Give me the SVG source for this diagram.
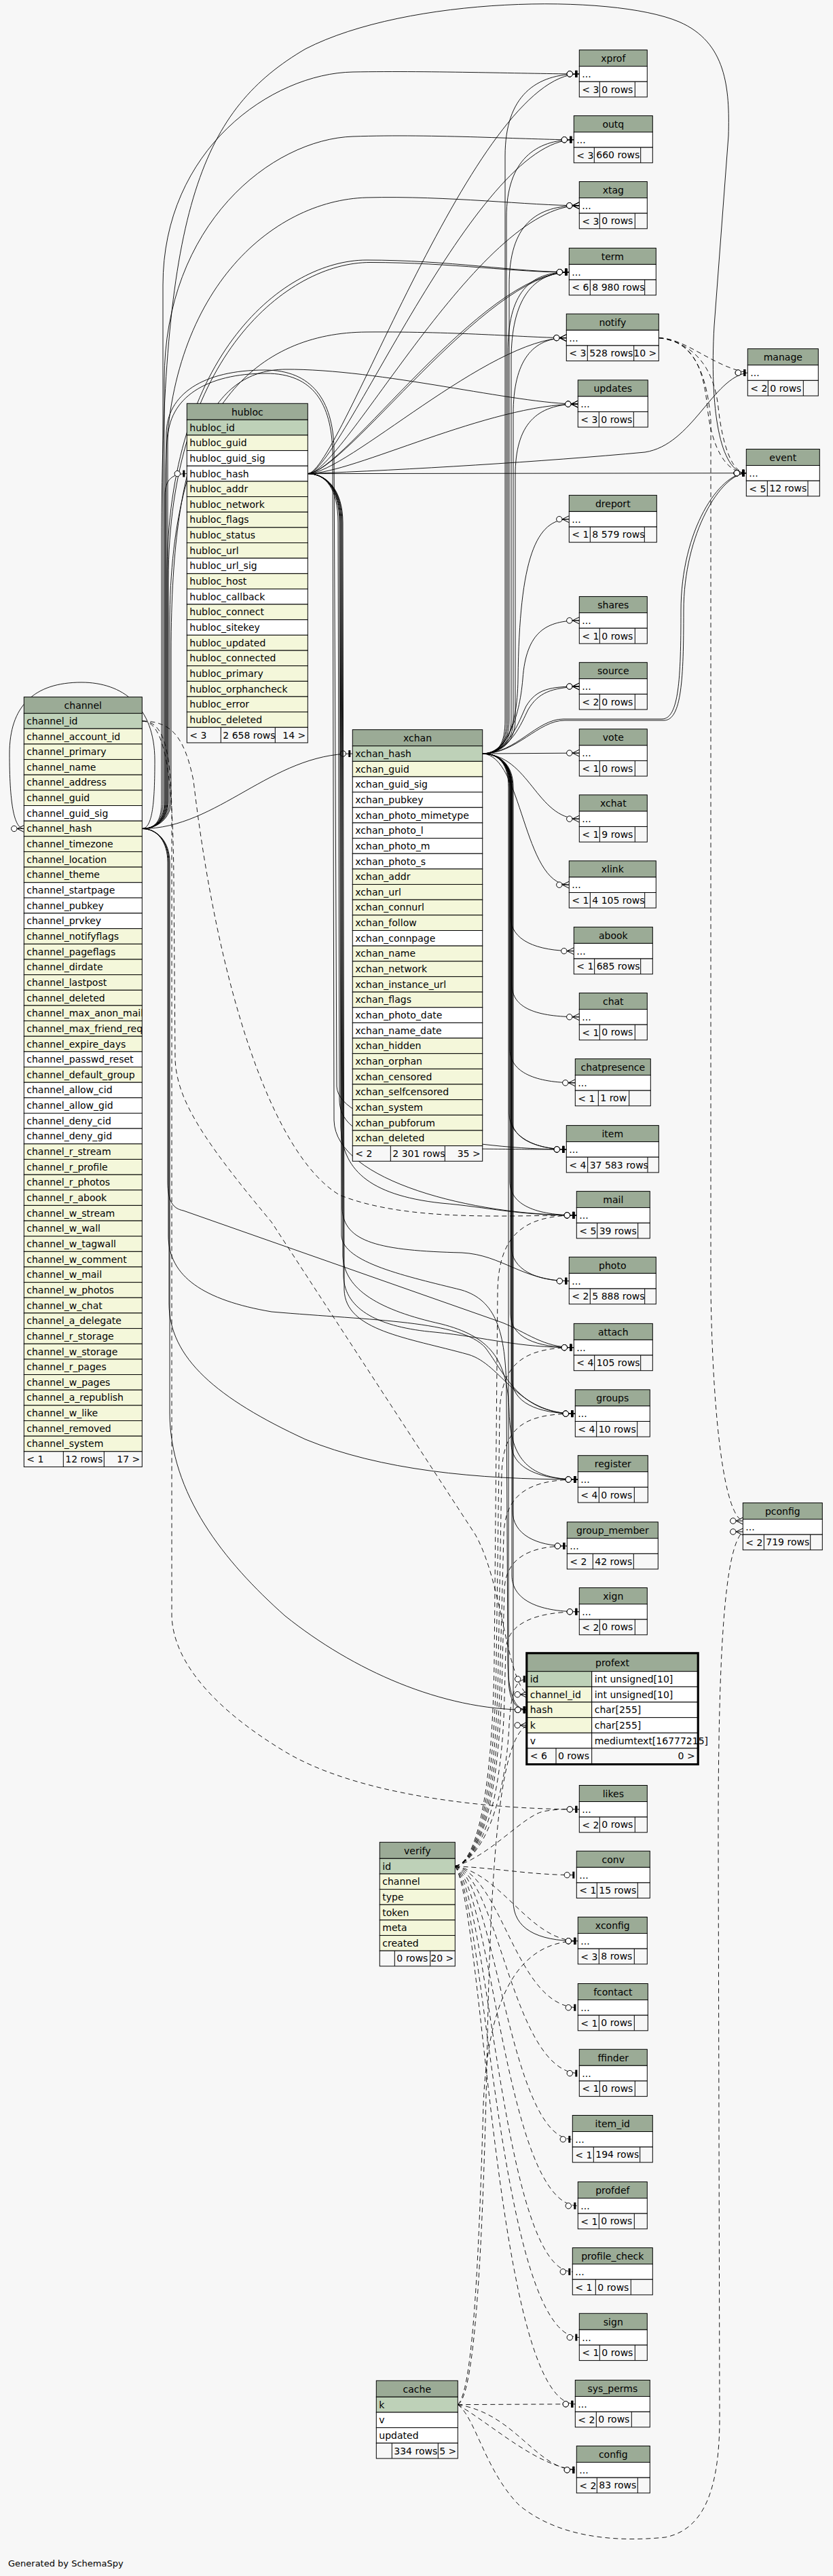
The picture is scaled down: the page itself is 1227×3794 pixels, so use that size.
<svg xmlns="http://www.w3.org/2000/svg" width="1227" height="3794" viewBox="0 0 1227 3794">
<style>
text{font-family:"DejaVu Sans","Liberation Sans",sans-serif;font-size:14px;fill:#000}
.c{text-anchor:middle}
.r{text-anchor:end}
.hd{fill:#9bab96;stroke:#000;stroke-width:1}
.pk{fill:#bed1b8;stroke:#000;stroke-width:1}
.ix{fill:#f4f7da;stroke:#000;stroke-width:1}
.pl{fill:#ffffff;stroke:#000;stroke-width:1}
.ft{fill:#f7f7f7;stroke:#000;stroke-width:1}
.ln{stroke:#000;stroke-width:1;fill:none}
.e{fill:none;stroke:#000;stroke-width:0.9}
.d{stroke-dasharray:7 5}
.m1{marker-end:url(#one)}
.mc{marker-end:url(#crow)}
.gen{font-size:13px}
</style>
<defs>
<marker id="one" markerWidth="24" markerHeight="14" refX="22" refY="7" orient="0" markerUnits="userSpaceOnUse" overflow="visible"><circle cx="8" cy="7" r="4.2" fill="#fff" stroke="#000" stroke-dasharray="none"/><rect x="16" y="2" width="3" height="10" fill="#000"/></marker>
<marker id="crow" markerWidth="24" markerHeight="14" refX="22" refY="7" orient="0" markerUnits="userSpaceOnUse" overflow="visible"><path d="M12,7 L22,2 M12,7 L22,7 M12,7 L22,12" fill="none" stroke="#000" stroke-dasharray="none"/><circle cx="7.5" cy="7" r="4.2" fill="#fff" stroke="#000" stroke-dasharray="none"/></marker>
<clipPath id="cc"><rect x="0" y="0" width="174" height="1140"/></clipPath>
</defs>
<rect width="1227" height="3794" fill="#f7f7f7"/>
<g id="connectors">
<path class="e m1" d="M 209.3,1220.5 C 232,1220.5 240,1205 240,1180 L 240,420 C 240,220 400,108 520,106 C 640,104 780,108.9 853.3,108.9"/>
<path class="e m1" d="M 209.3,1220.5 C 232,1220.5 242,1205 242,1180 L 242,560 C 242,330 400,205 520,201 C 640,197 780,205.8 845.3,205.8"/>
<path class="e mc" d="M 209.3,1220.5 C 232,1220.5 244,1205 244,1180 L 244,700 C 244,430 400,295 540,291 C 660,288 780,302.8 853.3,302.8"/>
<path class="e m1" d="M 209.3,1220.5 C 232,1220.5 246,1205 246,1180 L 246,850 C 246,520 420,383 540,383 C 660,383 760,400.7 838.3,400.7"/>
<path class="e m1" d="M 209.3,1220.5 C 232,1220.5 248,1205 248,1180 L 248,855 C 248,525 425,386.5 545,386.5 C 665,386.5 765,402 838.3,400.7"/>
<path class="e mc" d="M 209.3,1220.5 C 232,1220.5 250,1205 250,1180 L 250,920 C 250,600 380,490 540,489 C 680,488 780,497.6 834.3,497.6"/>
<path class="e mc" d="M 209.3,1220.5 C 232,1220.5 252,1205 252,1180 L 252,960 C 252,640 320,545 420,544 C 560,543 760,595.1 851.3,595.1"/>
<path class="e m1" d="M 209.3,1220.5 C 232,1220.5 238,1205 238,1180 L 238,800 C 238,300 300,160 450,72 C 600,-5 900,-10 1000,32 C 1070,62 1075,130 1073,200 L 1052,480 C 1045,600 1060,696.8 1099.3,696.8"/>
<path class="e m1" d="M 209.3,1220.5 C 232,1220.5 243,1205 243,1180 L 243,730 C 243,705 255,697.6 275.3,697.6"/>
<path class="e m1" d="M 209.3,1220.5 C 320,1220.5 400,1110 519.3,1110"/>
<path class="e mc" d="M 209.3,1220.5 C 225,1220 228,1180 228,1120 C 228,1040 180,1005 120,1005 C 50,1005 14,1040 14,1110 C 14,1180 20,1220.5 35.3,1220.5"/>
<path class="e m1" d="M 209.3,1220.5 C 232,1220.5 245,1205 245,1180 L 245,640 C 245,580 300,545 390,545 C 460,545 490,590 492,660 L 496,1600 C 498,1660 700,1692.9 834.3,1692.9"/>
<path class="e m1" d="M 209.3,1220.5 C 232,1220.5 247,1205 247,1180 L 247,650 C 247,585 305,550 392,550 C 462,550 488,595 490,665 L 492,1650 C 494,1740 700,1789.9 849.3,1789.9"/>
<path class="e m1" d="M 209.3,1220.5 C 232,1220.5 247,1240 247,1270 L 247,1740 C 247,1770 255,1780 270,1783 L 740,1948 C 775,1962 800,1984.7 845.3,1984.7"/>
<path class="e m1" d="M 209.3,1220.5 C 232,1220.5 248,1240 248,1270 L 248,1820 C 248,1880 300,1915 400,1932 C 550,1945 680,1945 715,1985 C 745,2025 765,2082.1 847.3,2082.1"/>
<path class="e m1" d="M 209.3,1220.5 C 232,1220.5 249,1240 249,1270 L 249,1920 C 249,2000 320,2060 450,2120 C 560,2165 700,2179 851.3,2179"/>
<path class="e m1" d="M 209.3,1220.5 C 232,1220.5 250,1240 250,1270 L 250,2080 C 250,2200 330,2300 420,2380 C 520,2460 650,2518.3 776.7,2518.3"/>
<path class="e m1" d="M 710.7,1110 C 735,1110 744,1095 744,1060 L 744,230 C 744,140 790,108.9 853.3,108.9"/>
<path class="e m1" d="M 710.7,1110 C 735,1110 746,1095 746,1060 L 746,320 C 746,235 790,205.8 845.3,205.8"/>
<path class="e mc" d="M 710.7,1110 C 735,1110 750,1095 750,1060 L 750,420 C 750,330 790,302.8 853.3,302.8"/>
<path class="e m1" d="M 710.7,1110 C 735,1110 748,1095 748,1060 L 748,520 C 748,430 780,400.7 838.3,400.7"/>
<path class="e m1" d="M 710.7,1110 C 735,1110 753,1095 753,1060 L 753,530 C 753,440 785,402 838.3,400.7"/>
<path class="e mc" d="M 710.7,1110 C 735,1110 756,1095 756,1060 L 756,610 C 756,530 785,497.6 834.3,497.6"/>
<path class="e mc" d="M 710.7,1110 C 735,1110 759,1095 759,1060 L 759,700 C 759,625 790,595.1 851.3,595.1"/>
<path class="e mc" d="M 710.7,1110 C 740,1110 762,1080 763,1000 C 765,820 790,764.7 838.3,764.7"/>
<path class="e mc" d="M 710.7,1110 C 745,1110 765,1060 770,1000 C 775,930 805,913.9 853.3,913.9"/>
<path class="e mc" d="M 710.7,1110 C 750,1110 765,1060 775,1040 C 790,1015 810,1011 853.3,1011"/>
<path class="e mc" d="M 710.7,1110 C 752,1108 768,1065 778,1045 C 793,1020 812,1013 853.3,1011"/>
<path class="e mc" d="M 710.7,1110 L 853.3,1109.1"/>
<path class="e mc" d="M 710.7,1110 C 780,1112 790,1206.1 853.3,1206.1"/>
<path class="e mc" d="M 710.7,1110 C 770,1112 770,1303.2 838.3,1303.2"/>
<path class="e mc" d="M 710.7,1110 C 735,1110 752,1125 752,1160 L 752,1350 C 752,1385 790,1400.7 845.3,1400.7"/>
<path class="e mc" d="M 710.7,1110 C 735,1110 754,1125 754,1160 L 754,1450 C 754,1485 790,1497.8 853.3,1497.8"/>
<path class="e mc" d="M 710.7,1110 C 735,1110 751,1125 751,1160 L 751,1545 C 751,1580 790,1594.8 847.3,1594.8"/>
<path class="e m1" d="M 710.7,1110 C 735,1110 750,1125 750,1160 L 750,1640 C 750,1675 790,1692.9 834.3,1692.9"/>
<path class="e m1" d="M 710.7,1110 C 735,1110 753,1125 753,1160 L 753,1645 C 753,1680 795,1692 834.3,1692.9"/>
<path class="e m1" d="M 710.7,1110 C 735,1110 751,1125 751,1160 L 751,1740 C 751,1775 790,1789.9 849.3,1789.9"/>
<path class="e m1" d="M 710.7,1110 C 735,1110 753,1125 753,1160 L 753,1835 C 753,1870 790,1886.7 838.3,1886.7"/>
<path class="e m1" d="M 710.7,1110 C 735,1110 752,1125 752,1160 L 752,1935 C 752,1970 790,1984.7 845.3,1984.7"/>
<path class="e m1" d="M 710.7,1110 C 735,1110 754,1125 754,1160 L 754,2030 C 754,2065 790,2082.1 847.3,2082.1"/>
<path class="e m1" d="M 710.7,1110 C 735,1110 753,1125 753,1160 L 753,2125 C 753,2160 790,2179 851.3,2179"/>
<path class="e m1" d="M 710.7,1110 C 735,1110 755,1125 755,1160 L 755,2225 C 755,2260 790,2277 835.3,2277"/>
<path class="e m1" d="M 710.7,1110 C 735,1110 754,1125 754,1160 L 754,2320 C 754,2355 790,2373.8 853.3,2373.8"/>
<path class="e m1" d="M 710.7,1110 C 735,1110 749,1125 749,1160 L 749,2470 C 749,2505 760,2518.3 776.7,2518.3"/>
<path class="e m1" d="M 710.7,1110 C 735,1110 756,1125 756,1160 L 756,2800 C 756,2840 790,2858.8 851.3,2858.8"/>
<path class="e m1" d="M 710.7,1110 C 760,1110 790,1059 830,1059 L 975,1059 C 1000,1059 1003,1000 1003,900 C 1003,780 1060,696.8 1099.3,696.8"/>
<path class="e m1" d="M 710.7,1110 C 762,1110 792,1061 832,1061 L 978,1061 C 1004,1061 1007,1000 1007,900 C 1007,785 1062,698 1099.3,696.8"/>
<path class="e m1" d="M 453.3,697.6 C 500,697.6 700,108.9 853.3,108.9"/>
<path class="e m1" d="M 453.3,697.6 C 500,697.6 700,205.8 845.3,205.8"/>
<path class="e mc" d="M 453.3,697.6 C 505,697.6 705,302.8 853.3,302.8"/>
<path class="e m1" d="M 453.3,697.6 C 505,697.6 710,400.7 838.3,400.7"/>
<path class="e m1" d="M 453.3,697.6 C 510,695 715,403 838.3,400.7"/>
<path class="e mc" d="M 453.3,697.6 C 510,697.6 720,497.6 834.3,497.6"/>
<path class="e mc" d="M 453.3,697.6 C 520,697.6 720,595.1 851.3,595.1"/>
<path class="e m1" d="M 453.3,697.6 C 600,692 800,680 950,666 C 1020,655 1050,556 1101.3,549"/>
<path class="e m1" d="M 453.3,697.6 L 1099.3,696.8"/>
<path class="e m1" d="M 453.3,697.6 C 480,697.6 498,720 498,770 L 500,1620 C 501,1670 560,1690 700,1692 C 780,1692.9 800,1692.9 834.3,1692.9"/>
<path class="e m1" d="M 453.3,697.6 C 480,697.6 500,720 500,770 L 502,1660 C 504,1720 540,1760 650,1772 C 720,1778 760,1789.9 849.3,1789.9"/>
<path class="e m1" d="M 453.3,697.6 C 480,697.6 502,720 502,770 L 504,1780 C 506,1830 560,1842 680,1845 C 740,1848 770,1886.7 838.3,1886.7"/>
<path class="e m1" d="M 453.3,697.6 C 480,697.6 504,720 504,770 L 506,1880 C 508,1930 560,1955 640,1962 C 720,1970 760,1984.7 845.3,1984.7"/>
<path class="e m1" d="M 453.3,697.6 C 480,697.6 505,720 505,770 L 507,1900 C 509,1960 600,1970 690,1995 C 740,2010 760,2082.1 847.3,2082.1"/>
<path class="e m1" d="M 453.3,697.6 C 480,697.6 503,720 503,770 L 505,1850 C 507,1900 560,1930 650,1950 C 720,1968 748,2000 750,2080 C 752,2150 780,2179 851.3,2179"/>
<path class="e m1" d="M 453.3,697.6 C 480,697.6 501,720 501,770 L 503,1820 C 505,1860 600,1880 680,1900 C 730,1915 745,1960 746,2050 L 748,2450 C 749,2500 760,2518.3 776.7,2518.3"/>
<path class="e d mc" d="M 209.3,1062 C 245,1062 255,1150 256,1300 L 258,1560 C 260,1620 300,1680 400,1800 L 700,2260 C 740,2330 745,2470 776.7,2495.7"/>
<path class="e d m1" d="M 209.3,1062 C 240,1062 252,1100 253,1200 L 253,2380 C 255,2450 320,2520 420,2580 C 520,2640 700,2664.8 853.3,2664.8"/>
<path class="e d m1" d="M 209.3,1062 C 252,1062 272,1085 285,1150 C 320,1450 400,1700 500,1760 C 600,1800 750,1789.9 849.3,1789.9"/>
<path class="e d m1" d="M 670.3,2748.6 C 712,2738 745,2650 750,2540 C 753,2490 760,2473 776.7,2473"/>
<path class="e d m1" d="M 670.3,2748.6 C 720,2735 770,2675 800,2668 C 820,2664 835,2664.8 853.3,2664.8"/>
<path class="e d m1" d="M 670.3,2748.6 C 740,2752 780,2761.6 849.3,2761.6"/>
<path class="e d m1" d="M 670.3,2748.6 C 740,2760 780,2858.8 851.3,2858.8"/>
<path class="e d m1" d="M 670.3,2748.6 C 740,2762 760,2956.8 851.3,2956.8"/>
<path class="e d m1" d="M 670.3,2748.6 C 735,2765 755,3053.6 853.3,3053.6"/>
<path class="e d m1" d="M 670.3,2748.6 C 730,2770 750,3150.8 843.3,3150.8"/>
<path class="e d m1" d="M 670.3,2748.6 C 725,2780 745,3248.8 851.3,3248.8"/>
<path class="e d m1" d="M 670.3,2748.6 C 720,2790 740,3345.9 843.3,3345.9"/>
<path class="e d m1" d="M 670.3,2748.6 C 715,2800 735,3442.6 853.3,3442.6"/>
<path class="e d m1" d="M 670.3,2748.6 C 712,2810 730,3540.8 847.3,3540.8"/>
<path class="e d m1" d="M 670.3,2748.6 C 700,2745 725,2650 728,2450 L 733,1900 C 735,1820 770,1789.9 849.3,1789.9"/>
<path class="e d m1" d="M 670.3,2748.6 C 702,2744 728,2650 731,2450 L 736,2080 C 738,2010 770,1984.7 845.3,1984.7"/>
<path class="e d m1" d="M 670.3,2748.6 C 704,2743 731,2650 734,2450 L 739,2170 C 741,2100 775,2082.1 847.3,2082.1"/>
<path class="e d m1" d="M 670.3,2748.6 C 706,2742 734,2650 737,2450 L 742,2260 C 744,2200 780,2179 851.3,2179"/>
<path class="e d m1" d="M 670.3,2748.6 C 708,2741 737,2650 740,2450 L 743,2340 C 745,2295 780,2277 835.3,2277"/>
<path class="e d m1" d="M 670.3,2748.6 C 710,2740 740,2650 743,2500 L 745,2430 C 747,2390 790,2373.8 853.3,2373.8"/>
<path class="e d m1" d="M 674.3,3541.6 L 847.3,3540.8"/>
<path class="e d m1" d="M 674.3,3541.6 C 760,3555 790,3637.8 849.3,3637.8"/>
<path class="e d m1" d="M 674.3,3541.6 C 730,3575 790,3632 849.3,3637.8"/>
<path class="e d mc" d="M 674.3,3541.6 C 700,3530 712,3300 718,3000 C 724,2700 740,2560 776.7,2541"/>
<path class="e d m1" d="M 674.3,3541.6 C 698,3520 706,3300 712,3100 C 718,2950 760,2858.8 851.3,2858.8"/>
<path class="e d mc" d="M 674.3,3541.6 C 700,3560 715,3640 765,3690 C 820,3735 900,3745 980,3737 C 1040,3725 1060,3660 1060,3560 L 1058,2700 C 1058,2450 1066,2280 1094.3,2256"/>
<path class="e d m1" d="M 970.3,497.6 C 1010,498 1050,540 1101.3,549"/>
<path class="e d m1" d="M 970.3,497.6 C 1020,502 1036,540 1042,600 C 1048,660 1070,696.8 1099.3,696.8"/>
<path class="e d m1" d="M 970.3,497.6 C 1025,505 1052,545 1058,600 C 1064,655 1078,696.8 1099.3,696.8"/>
<path class="e d mc" d="M 970.3,497.6 C 1010,500 1040,530 1047,620 L 1047,1900 C 1050,2100 1068,2232 1094.3,2240"/>
</g>

<g id="hubloc" transform="translate(275.3,594.3)">
<rect class="hd" width="178" height="24"/><text class="c" x="89" y="17.5">hubloc</text>
<rect class="pk" y="24" width="178" height="22.65"/><text x="4" y="40.3">hubloc_id</text>
<rect class="ix" y="46.65" width="178" height="22.65"/><text x="4" y="62.95">hubloc_guid</text>
<rect class="pl" y="69.3" width="178" height="22.65"/><text x="4" y="85.6">hubloc_guid_sig</text>
<rect class="pl" y="91.95" width="178" height="22.65"/><text x="4" y="108.25">hubloc_hash</text>
<rect class="ix" y="114.6" width="178" height="22.65"/><text x="4" y="130.9">hubloc_addr</text>
<rect class="ix" y="137.25" width="178" height="22.65"/><text x="4" y="153.55">hubloc_network</text>
<rect class="ix" y="159.9" width="178" height="22.65"/><text x="4" y="176.2">hubloc_flags</text>
<rect class="ix" y="182.55" width="178" height="22.65"/><text x="4" y="198.85">hubloc_status</text>
<rect class="ix" y="205.2" width="178" height="22.65"/><text x="4" y="221.5">hubloc_url</text>
<rect class="pl" y="227.85" width="178" height="22.65"/><text x="4" y="244.15">hubloc_url_sig</text>
<rect class="ix" y="250.5" width="178" height="22.65"/><text x="4" y="266.8">hubloc_host</text>
<rect class="pl" y="273.15" width="178" height="22.65"/><text x="4" y="289.45">hubloc_callback</text>
<rect class="ix" y="295.8" width="178" height="22.65"/><text x="4" y="312.1">hubloc_connect</text>
<rect class="pl" y="318.45" width="178" height="22.65"/><text x="4" y="334.75">hubloc_sitekey</text>
<rect class="ix" y="341.1" width="178" height="22.65"/><text x="4" y="357.4">hubloc_updated</text>
<rect class="ix" y="363.75" width="178" height="22.65"/><text x="4" y="380.05">hubloc_connected</text>
<rect class="ix" y="386.4" width="178" height="22.65"/><text x="4" y="402.7">hubloc_primary</text>
<rect class="ix" y="409.05" width="178" height="22.65"/><text x="4" y="425.35">hubloc_orphancheck</text>
<rect class="ix" y="431.7" width="178" height="22.65"/><text x="4" y="448">hubloc_error</text>
<rect class="ix" y="454.35" width="178" height="22.65"/><text x="4" y="470.65">hubloc_deleted</text>
<rect class="ft" y="477" width="178" height="22.65"/><path class="ln" d="M50,477 V499.65 M130,477 V499.65"/>
<text x="4" y="493.3">&lt; 3</text><svg x="50" y="477" width="80" height="22.65"><text x="3" y="16.3">2 658 rows</text></svg><text class="r" x="175" y="493.3">14 &gt;</text>
</g>

<g id="channel" transform="translate(35.3,1026.6)">
<rect class="hd" width="174" height="24"/><text class="c" x="87" y="17.5">channel</text>
<rect class="pk" y="24" width="174" height="22.65"/>
<rect class="ix" y="46.65" width="174" height="22.65"/>
<rect class="ix" y="69.3" width="174" height="22.65"/>
<rect class="ix" y="91.95" width="174" height="22.65"/>
<rect class="ix" y="114.6" width="174" height="22.65"/>
<rect class="ix" y="137.25" width="174" height="22.65"/>
<rect class="pl" y="159.9" width="174" height="22.65"/>
<rect class="ix" y="182.55" width="174" height="22.65"/>
<rect class="ix" y="205.2" width="174" height="22.65"/>
<rect class="ix" y="227.85" width="174" height="22.65"/>
<rect class="ix" y="250.5" width="174" height="22.65"/>
<rect class="pl" y="273.15" width="174" height="22.65"/>
<rect class="pl" y="295.8" width="174" height="22.65"/>
<rect class="pl" y="318.45" width="174" height="22.65"/>
<rect class="ix" y="341.1" width="174" height="22.65"/>
<rect class="ix" y="363.75" width="174" height="22.65"/>
<rect class="ix" y="386.4" width="174" height="22.65"/>
<rect class="ix" y="409.05" width="174" height="22.65"/>
<rect class="ix" y="431.7" width="174" height="22.65"/>
<rect class="ix" y="454.35" width="174" height="22.65"/>
<rect class="ix" y="477" width="174" height="22.65"/>
<rect class="ix" y="499.65" width="174" height="22.65"/>
<rect class="pl" y="522.3" width="174" height="22.65"/>
<rect class="ix" y="544.95" width="174" height="22.65"/>
<rect class="pl" y="567.6" width="174" height="22.65"/>
<rect class="pl" y="590.25" width="174" height="22.65"/>
<rect class="pl" y="612.9" width="174" height="22.65"/>
<rect class="pl" y="635.55" width="174" height="22.65"/>
<rect class="ix" y="658.2" width="174" height="22.65"/>
<rect class="ix" y="680.85" width="174" height="22.65"/>
<rect class="ix" y="703.5" width="174" height="22.65"/>
<rect class="ix" y="726.15" width="174" height="22.65"/>
<rect class="ix" y="748.8" width="174" height="22.65"/>
<rect class="ix" y="771.45" width="174" height="22.65"/>
<rect class="ix" y="794.1" width="174" height="22.65"/>
<rect class="ix" y="816.75" width="174" height="22.65"/>
<rect class="ix" y="839.4" width="174" height="22.65"/>
<rect class="ix" y="862.05" width="174" height="22.65"/>
<rect class="ix" y="884.7" width="174" height="22.65"/>
<rect class="ix" y="907.35" width="174" height="22.65"/>
<rect class="ix" y="930" width="174" height="22.65"/>
<rect class="ix" y="952.65" width="174" height="22.65"/>
<rect class="ix" y="975.3" width="174" height="22.65"/>
<rect class="ix" y="997.95" width="174" height="22.65"/>
<rect class="ix" y="1020.6" width="174" height="22.65"/>
<rect class="ix" y="1043.25" width="174" height="22.65"/>
<rect class="ix" y="1065.9" width="174" height="22.65"/>
<rect class="ix" y="1088.55" width="174" height="22.65"/>
<g clip-path="url(#cc)">
<text x="4" y="40.3">channel_id</text>
<text x="4" y="62.95">channel_account_id</text>
<text x="4" y="85.6">channel_primary</text>
<text x="4" y="108.25">channel_name</text>
<text x="4" y="130.9">channel_address</text>
<text x="4" y="153.55">channel_guid</text>
<text x="4" y="176.2">channel_guid_sig</text>
<text x="4" y="198.85">channel_hash</text>
<text x="4" y="221.5">channel_timezone</text>
<text x="4" y="244.15">channel_location</text>
<text x="4" y="266.8">channel_theme</text>
<text x="4" y="289.45">channel_startpage</text>
<text x="4" y="312.1">channel_pubkey</text>
<text x="4" y="334.75">channel_prvkey</text>
<text x="4" y="357.4">channel_notifyflags</text>
<text x="4" y="380.05">channel_pageflags</text>
<text x="4" y="402.7">channel_dirdate</text>
<text x="4" y="425.35">channel_lastpost</text>
<text x="4" y="448">channel_deleted</text>
<text x="4" y="470.65">channel_max_anon_mail</text>
<text x="4" y="493.3">channel_max_friend_req</text>
<text x="4" y="515.95">channel_expire_days</text>
<text x="4" y="538.6">channel_passwd_reset</text>
<text x="4" y="561.25">channel_default_group</text>
<text x="4" y="583.9">channel_allow_cid</text>
<text x="4" y="606.55">channel_allow_gid</text>
<text x="4" y="629.2">channel_deny_cid</text>
<text x="4" y="651.85">channel_deny_gid</text>
<text x="4" y="674.5">channel_r_stream</text>
<text x="4" y="697.15">channel_r_profile</text>
<text x="4" y="719.8">channel_r_photos</text>
<text x="4" y="742.45">channel_r_abook</text>
<text x="4" y="765.1">channel_w_stream</text>
<text x="4" y="787.75">channel_w_wall</text>
<text x="4" y="810.4">channel_w_tagwall</text>
<text x="4" y="833.05">channel_w_comment</text>
<text x="4" y="855.7">channel_w_mail</text>
<text x="4" y="878.35">channel_w_photos</text>
<text x="4" y="901">channel_w_chat</text>
<text x="4" y="923.65">channel_a_delegate</text>
<text x="4" y="946.3">channel_r_storage</text>
<text x="4" y="968.95">channel_w_storage</text>
<text x="4" y="991.6">channel_r_pages</text>
<text x="4" y="1014.25">channel_w_pages</text>
<text x="4" y="1036.9">channel_a_republish</text>
<text x="4" y="1059.55">channel_w_like</text>
<text x="4" y="1082.2">channel_removed</text>
<text x="4" y="1104.85">channel_system</text>
</g>
<rect class="ft" y="1111.2" width="174" height="22.65"/><path class="ln" d="M58,1111.2 V1133.85 M118,1111.2 V1133.85"/>
<text x="4" y="1127.5">&lt; 1</text><svg x="58" y="1111.2" width="60" height="22.65"><text x="3" y="16.3">12 rows</text></svg><text class="r" x="171" y="1127.5">17 &gt;</text>
</g>

<g id="xchan" transform="translate(519.3,1074.7)">
<rect class="hd" width="191.4" height="24"/><text class="c" x="95.7" y="17.5">xchan</text>
<rect class="pk" y="24" width="191.4" height="22.65"/><text x="4" y="40.3">xchan_hash</text>
<rect class="ix" y="46.65" width="191.4" height="22.65"/><text x="4" y="62.95">xchan_guid</text>
<rect class="pl" y="69.3" width="191.4" height="22.65"/><text x="4" y="85.6">xchan_guid_sig</text>
<rect class="pl" y="91.95" width="191.4" height="22.65"/><text x="4" y="108.25">xchan_pubkey</text>
<rect class="pl" y="114.6" width="191.4" height="22.65"/><text x="4" y="130.9">xchan_photo_mimetype</text>
<rect class="pl" y="137.25" width="191.4" height="22.65"/><text x="4" y="153.55">xchan_photo_l</text>
<rect class="pl" y="159.9" width="191.4" height="22.65"/><text x="4" y="176.2">xchan_photo_m</text>
<rect class="pl" y="182.55" width="191.4" height="22.65"/><text x="4" y="198.85">xchan_photo_s</text>
<rect class="ix" y="205.2" width="191.4" height="22.65"/><text x="4" y="221.5">xchan_addr</text>
<rect class="ix" y="227.85" width="191.4" height="22.65"/><text x="4" y="244.15">xchan_url</text>
<rect class="ix" y="250.5" width="191.4" height="22.65"/><text x="4" y="266.8">xchan_connurl</text>
<rect class="ix" y="273.15" width="191.4" height="22.65"/><text x="4" y="289.45">xchan_follow</text>
<rect class="pl" y="295.8" width="191.4" height="22.65"/><text x="4" y="312.1">xchan_connpage</text>
<rect class="ix" y="318.45" width="191.4" height="22.65"/><text x="4" y="334.75">xchan_name</text>
<rect class="ix" y="341.1" width="191.4" height="22.65"/><text x="4" y="357.4">xchan_network</text>
<rect class="ix" y="363.75" width="191.4" height="22.65"/><text x="4" y="380.05">xchan_instance_url</text>
<rect class="ix" y="386.4" width="191.4" height="22.65"/><text x="4" y="402.7">xchan_flags</text>
<rect class="pl" y="409.05" width="191.4" height="22.65"/><text x="4" y="425.35">xchan_photo_date</text>
<rect class="pl" y="431.7" width="191.4" height="22.65"/><text x="4" y="448">xchan_name_date</text>
<rect class="ix" y="454.35" width="191.4" height="22.65"/><text x="4" y="470.65">xchan_hidden</text>
<rect class="ix" y="477" width="191.4" height="22.65"/><text x="4" y="493.3">xchan_orphan</text>
<rect class="ix" y="499.65" width="191.4" height="22.65"/><text x="4" y="515.95">xchan_censored</text>
<rect class="ix" y="522.3" width="191.4" height="22.65"/><text x="4" y="538.6">xchan_selfcensored</text>
<rect class="ix" y="544.95" width="191.4" height="22.65"/><text x="4" y="561.25">xchan_system</text>
<rect class="ix" y="567.6" width="191.4" height="22.65"/><text x="4" y="583.9">xchan_pubforum</text>
<rect class="ix" y="590.25" width="191.4" height="22.65"/><text x="4" y="606.55">xchan_deleted</text>
<rect class="ft" y="612.9" width="191.4" height="22.65"/><path class="ln" d="M56,612.9 V635.55 M136,612.9 V635.55"/>
<text x="4" y="629.2">&lt; 2</text><svg x="56" y="612.9" width="80" height="22.65"><text x="3" y="16.3">2 301 rows</text></svg><text class="r" x="188.4" y="629.2">35 &gt;</text>
</g>

<g id="verify" transform="translate(559.3,2713.3)">
<rect class="hd" width="111" height="24"/><text class="c" x="55.5" y="17.5">verify</text>
<rect class="pk" y="24" width="111" height="22.65"/><text x="4" y="40.3">id</text>
<rect class="ix" y="46.65" width="111" height="22.65"/><text x="4" y="62.95">channel</text>
<rect class="ix" y="69.3" width="111" height="22.65"/><text x="4" y="85.6">type</text>
<rect class="ix" y="91.95" width="111" height="22.65"/><text x="4" y="108.25">token</text>
<rect class="ix" y="114.6" width="111" height="22.65"/><text x="4" y="130.9">meta</text>
<rect class="ix" y="137.25" width="111" height="22.65"/><text x="4" y="153.55">created</text>
<rect class="ft" y="159.9" width="111" height="22.65"/><path class="ln" d="M22,159.9 V182.55 M74.4,159.9 V182.55"/>
<svg x="22" y="159.9" width="52.4" height="22.65"><text x="3" y="16.3">0 rows</text></svg><text class="r" x="109" y="176.2">20 &gt;</text>
</g>

<g id="cache" transform="translate(554.3,3506.3)">
<rect class="hd" width="120" height="24"/><text class="c" x="60" y="17.5">cache</text>
<rect class="pk" y="24" width="120" height="22.65"/><text x="4" y="40.3">k</text>
<rect class="pl" y="46.65" width="120" height="22.65"/><text x="4" y="62.95">v</text>
<rect class="pl" y="69.3" width="120" height="22.65"/><text x="4" y="85.6">updated</text>
<rect class="ft" y="91.95" width="120" height="22.65"/><path class="ln" d="M23,91.95 V114.6 M91,91.95 V114.6"/>
<svg x="23" y="91.95" width="68" height="22.65"><text x="3" y="16.3">334 rows</text></svg><text class="r" x="118" y="108.25">5 &gt;</text>
</g>

<g id="profext" transform="translate(776.7,2435.7)">
<rect class="hd" width="250.6" height="26"/><text class="c" x="125.3" y="18.5">profext</text>
<rect class="pk" y="26" width="95" height="22.65"/><rect class="pl" x="95" y="26" width="155.6" height="22.65"/>
<text x="4" y="42.3">id</text><text x="99" y="42.3">int unsigned[10]</text>
<rect class="ix" y="48.65" width="95" height="22.65"/><rect class="pl" x="95" y="48.65" width="155.6" height="22.65"/>
<text x="4" y="64.95">channel_id</text><text x="99" y="64.95">int unsigned[10]</text>
<rect class="ix" y="71.3" width="95" height="22.65"/><rect class="pl" x="95" y="71.3" width="155.6" height="22.65"/>
<text x="4" y="87.6">hash</text><text x="99" y="87.6">char[255]</text>
<rect class="ix" y="93.95" width="95" height="22.65"/><rect class="pl" x="95" y="93.95" width="155.6" height="22.65"/>
<text x="4" y="110.25">k</text><text x="99" y="110.25">char[255]</text>
<rect class="pl" y="116.6" width="95" height="22.65"/><rect class="pl" x="95" y="116.6" width="155.6" height="22.65"/>
<text x="4" y="132.9">v</text>
<rect class="ft" y="139.25" width="250.6" height="22.65"/><path class="ln" d="M42.3,139.25 V161.9 M95,139.25 V161.9"/>
<text x="4" y="155.55">&lt; 6</text><svg x="42.3" y="139.25" width="52.7" height="22.65"><text x="3" y="16.3">0 rows</text></svg><text class="r" x="247" y="155.55">0 &gt;</text>
<rect x="-1" y="-1" width="252.6" height="163.9" fill="none" stroke="#000" stroke-width="3"/>
<text x="99" y="132.9">mediumtext[16777215]</text>
</g>

<g id="xprof" transform="translate(853.3,73.6)"><rect class="hd" width="100" height="24"/><text class="c" x="50" y="17.5">xprof</text><rect class="pl" y="24" width="100" height="22.65"/><text x="4" y="40.3">...</text><rect class="ft" y="46.65" width="100" height="22.65"/><path class="ln" d="M30,46.65 V69.3 M82,46.65 V69.3"/><text x="4" y="63">&lt; 3</text><svg x="30" y="46.65" width="52" height="22.65"><text x="3" y="16.3">0 rows</text></svg></g>
<g id="outq" transform="translate(845.3,170.5)"><rect class="hd" width="116" height="24"/><text class="c" x="58" y="17.5">outq</text><rect class="pl" y="24" width="116" height="22.65"/><text x="4" y="40.3">...</text><rect class="ft" y="46.65" width="116" height="22.65"/><path class="ln" d="M30,46.65 V69.3 M98.4,46.65 V69.3"/><text x="4" y="63">&lt; 3</text><svg x="30" y="46.65" width="68.4" height="22.65"><text x="3" y="16.3">660 rows</text></svg></g>
<g id="xtag" transform="translate(853.3,267.5)"><rect class="hd" width="100" height="24"/><text class="c" x="50" y="17.5">xtag</text><rect class="pl" y="24" width="100" height="22.65"/><text x="4" y="40.3">...</text><rect class="ft" y="46.65" width="100" height="22.65"/><path class="ln" d="M30,46.65 V69.3 M82,46.65 V69.3"/><text x="4" y="63">&lt; 3</text><svg x="30" y="46.65" width="52" height="22.65"><text x="3" y="16.3">0 rows</text></svg></g>
<g id="term" transform="translate(838.3,365.4)"><rect class="hd" width="128" height="24"/><text class="c" x="64" y="17.5">term</text><rect class="pl" y="24" width="128" height="22.65"/><text x="4" y="40.3">...</text><rect class="ft" y="46.65" width="128" height="22.65"/><path class="ln" d="M31,46.65 V69.3 M111.4,46.65 V69.3"/><text x="4" y="63">&lt; 6</text><svg x="31" y="46.65" width="80.4" height="22.65"><text x="3" y="16.3">8 980 rows</text></svg></g>
<g id="notify" transform="translate(834.3,462.3)"><rect class="hd" width="136" height="24"/><text class="c" x="68" y="17.5">notify</text><rect class="pl" y="24" width="136" height="22.65"/><text x="4" y="40.3">...</text><rect class="ft" y="46.65" width="136" height="22.65"/><path class="ln" d="M31,46.65 V69.3 M99.4,46.65 V69.3"/><text x="4" y="63">&lt; 3</text><svg x="31" y="46.65" width="68.4" height="22.65"><text x="3" y="16.3">528 rows</text></svg><text class="r" x="133" y="63">10 &gt;</text></g>
<g id="updates" transform="translate(851.3,559.8)"><rect class="hd" width="103" height="24"/><text class="c" x="51.5" y="17.5">updates</text><rect class="pl" y="24" width="103" height="22.65"/><text x="4" y="40.3">...</text><rect class="ft" y="46.65" width="103" height="22.65"/><path class="ln" d="M31,46.65 V69.3 M82,46.65 V69.3"/><text x="4" y="63">&lt; 3</text><svg x="31" y="46.65" width="51" height="22.65"><text x="3" y="16.3">0 rows</text></svg></g>
<g id="manage" transform="translate(1101.3,513.7)"><rect class="hd" width="104" height="24"/><text class="c" x="52" y="17.5">manage</text><rect class="pl" y="24" width="104" height="22.65"/><text x="4" y="40.3">...</text><rect class="ft" y="46.65" width="104" height="22.65"/><path class="ln" d="M30,46.65 V69.3 M82,46.65 V69.3"/><text x="4" y="63">&lt; 2</text><svg x="30" y="46.65" width="52" height="22.65"><text x="3" y="16.3">0 rows</text></svg></g>
<g id="event" transform="translate(1099.3,661.5)"><rect class="hd" width="108" height="24"/><text class="c" x="54" y="17.5">event</text><rect class="pl" y="24" width="108" height="22.65"/><text x="4" y="40.3">...</text><rect class="ft" y="46.65" width="108" height="22.65"/><path class="ln" d="M31,46.65 V69.3 M90.7,46.65 V69.3"/><text x="4" y="63">&lt; 5</text><svg x="31" y="46.65" width="59.7" height="22.65"><text x="3" y="16.3">12 rows</text></svg></g>
<g id="dreport" transform="translate(838.3,729.4)"><rect class="hd" width="129" height="24"/><text class="c" x="64.5" y="17.5">dreport</text><rect class="pl" y="24" width="129" height="22.65"/><text x="4" y="40.3">...</text><rect class="ft" y="46.65" width="129" height="22.65"/><path class="ln" d="M31,46.65 V69.3 M111,46.65 V69.3"/><text x="4" y="63">&lt; 1</text><svg x="31" y="46.65" width="80" height="22.65"><text x="3" y="16.3">8 579 rows</text></svg></g>
<g id="shares" transform="translate(853.3,878.6)"><rect class="hd" width="100" height="24"/><text class="c" x="50" y="17.5">shares</text><rect class="pl" y="24" width="100" height="22.65"/><text x="4" y="40.3">...</text><rect class="ft" y="46.65" width="100" height="22.65"/><path class="ln" d="M30,46.65 V69.3 M82,46.65 V69.3"/><text x="4" y="63">&lt; 1</text><svg x="30" y="46.65" width="52" height="22.65"><text x="3" y="16.3">0 rows</text></svg></g>
<g id="source" transform="translate(853.3,975.7)"><rect class="hd" width="100" height="24"/><text class="c" x="50" y="17.5">source</text><rect class="pl" y="24" width="100" height="22.65"/><text x="4" y="40.3">...</text><rect class="ft" y="46.65" width="100" height="22.65"/><path class="ln" d="M30,46.65 V69.3 M82,46.65 V69.3"/><text x="4" y="63">&lt; 2</text><svg x="30" y="46.65" width="52" height="22.65"><text x="3" y="16.3">0 rows</text></svg></g>
<g id="vote" transform="translate(853.3,1073.8)"><rect class="hd" width="100" height="24"/><text class="c" x="50" y="17.5">vote</text><rect class="pl" y="24" width="100" height="22.65"/><text x="4" y="40.3">...</text><rect class="ft" y="46.65" width="100" height="22.65"/><path class="ln" d="M30,46.65 V69.3 M82,46.65 V69.3"/><text x="4" y="63">&lt; 1</text><svg x="30" y="46.65" width="52" height="22.65"><text x="3" y="16.3">0 rows</text></svg></g>
<g id="xchat" transform="translate(853.3,1170.8)"><rect class="hd" width="100" height="24"/><text class="c" x="50" y="17.5">xchat</text><rect class="pl" y="24" width="100" height="22.65"/><text x="4" y="40.3">...</text><rect class="ft" y="46.65" width="100" height="22.65"/><path class="ln" d="M30,46.65 V69.3 M82,46.65 V69.3"/><text x="4" y="63">&lt; 1</text><svg x="30" y="46.65" width="52" height="22.65"><text x="3" y="16.3">9 rows</text></svg></g>
<g id="xlink" transform="translate(838.3,1267.9)"><rect class="hd" width="128" height="24"/><text class="c" x="64" y="17.5">xlink</text><rect class="pl" y="24" width="128" height="22.65"/><text x="4" y="40.3">...</text><rect class="ft" y="46.65" width="128" height="22.65"/><path class="ln" d="M31,46.65 V69.3 M111.4,46.65 V69.3"/><text x="4" y="63">&lt; 1</text><svg x="31" y="46.65" width="80.4" height="22.65"><text x="3" y="16.3">4 105 rows</text></svg></g>
<g id="abook" transform="translate(845.3,1365.4)"><rect class="hd" width="116" height="24"/><text class="c" x="58" y="17.5">abook</text><rect class="pl" y="24" width="116" height="22.65"/><text x="4" y="40.3">...</text><rect class="ft" y="46.65" width="116" height="22.65"/><path class="ln" d="M30.4,46.65 V69.3 M98.4,46.65 V69.3"/><text x="4" y="63">&lt; 1</text><svg x="30.4" y="46.65" width="68" height="22.65"><text x="3" y="16.3">685 rows</text></svg></g>
<g id="chat" transform="translate(853.3,1462.5)"><rect class="hd" width="100" height="24"/><text class="c" x="50" y="17.5">chat</text><rect class="pl" y="24" width="100" height="22.65"/><text x="4" y="40.3">...</text><rect class="ft" y="46.65" width="100" height="22.65"/><path class="ln" d="M30,46.65 V69.3 M82,46.65 V69.3"/><text x="4" y="63">&lt; 1</text><svg x="30" y="46.65" width="52" height="22.65"><text x="3" y="16.3">0 rows</text></svg></g>
<g id="chatpresence" transform="translate(847.3,1559.5)"><rect class="hd" width="111" height="24"/><text class="c" x="55.5" y="17.5">chatpresence</text><rect class="pl" y="24" width="111" height="22.65"/><text x="4" y="40.3">...</text><rect class="ft" y="46.65" width="111" height="22.65"/><path class="ln" d="M34,46.65 V69.3 M79.4,46.65 V69.3"/><text x="4" y="63">&lt; 1</text><svg x="34" y="46.65" width="45.4" height="22.65"><text x="3" y="16.3">1 row</text></svg></g>
<g id="item" transform="translate(834.3,1657.6)"><rect class="hd" width="136" height="24"/><text class="c" x="68" y="17.5">item</text><rect class="pl" y="24" width="136" height="22.65"/><text x="4" y="40.3">...</text><rect class="ft" y="46.65" width="136" height="22.65"/><path class="ln" d="M31.4,46.65 V69.3 M119.7,46.65 V69.3"/><text x="4" y="63">&lt; 4</text><svg x="31.4" y="46.65" width="88.3" height="22.65"><text x="3" y="16.3">37 583 rows</text></svg></g>
<g id="mail" transform="translate(849.3,1754.6)"><rect class="hd" width="108" height="24"/><text class="c" x="54" y="17.5">mail</text><rect class="pl" y="24" width="108" height="22.65"/><text x="4" y="40.3">...</text><rect class="ft" y="46.65" width="108" height="22.65"/><path class="ln" d="M30.4,46.65 V69.3 M90.4,46.65 V69.3"/><text x="4" y="63">&lt; 5</text><svg x="30.4" y="46.65" width="60" height="22.65"><text x="3" y="16.3">39 rows</text></svg></g>
<g id="photo" transform="translate(838.3,1851.4)"><rect class="hd" width="128" height="24"/><text class="c" x="64" y="17.5">photo</text><rect class="pl" y="24" width="128" height="22.65"/><text x="4" y="40.3">...</text><rect class="ft" y="46.65" width="128" height="22.65"/><path class="ln" d="M31,46.65 V69.3 M111.4,46.65 V69.3"/><text x="4" y="63">&lt; 2</text><svg x="31" y="46.65" width="80.4" height="22.65"><text x="3" y="16.3">5 888 rows</text></svg></g>
<g id="attach" transform="translate(845.3,1949.4)"><rect class="hd" width="116" height="24"/><text class="c" x="58" y="17.5">attach</text><rect class="pl" y="24" width="116" height="22.65"/><text x="4" y="40.3">...</text><rect class="ft" y="46.65" width="116" height="22.65"/><path class="ln" d="M30.4,46.65 V69.3 M98.4,46.65 V69.3"/><text x="4" y="63">&lt; 4</text><svg x="30.4" y="46.65" width="68" height="22.65"><text x="3" y="16.3">105 rows</text></svg></g>
<g id="groups" transform="translate(847.3,2046.8)"><rect class="hd" width="110" height="24"/><text class="c" x="55" y="17.5">groups</text><rect class="pl" y="24" width="110" height="22.65"/><text x="4" y="40.3">...</text><rect class="ft" y="46.65" width="110" height="22.65"/><path class="ln" d="M31.4,46.65 V69.3 M91.4,46.65 V69.3"/><text x="4" y="63">&lt; 4</text><svg x="31.4" y="46.65" width="60" height="22.65"><text x="3" y="16.3">10 rows</text></svg></g>
<g id="register" transform="translate(851.3,2143.7)"><rect class="hd" width="103" height="24"/><text class="c" x="51.5" y="17.5">register</text><rect class="pl" y="24" width="103" height="22.65"/><text x="4" y="40.3">...</text><rect class="ft" y="46.65" width="103" height="22.65"/><path class="ln" d="M31,46.65 V69.3 M83,46.65 V69.3"/><text x="4" y="63">&lt; 4</text><svg x="31" y="46.65" width="52" height="22.65"><text x="3" y="16.3">0 rows</text></svg></g>
<g id="group_member" transform="translate(835.3,2241.7)"><rect class="hd" width="134" height="24"/><text class="c" x="67" y="17.5">group_member</text><rect class="pl" y="24" width="134" height="22.65"/><text x="4" y="40.3">...</text><rect class="ft" y="46.65" width="134" height="22.65"/><path class="ln" d="M38,46.65 V69.3 M98,46.65 V69.3"/><text x="4" y="63">&lt; 2</text><svg x="38" y="46.65" width="60" height="22.65"><text x="3" y="16.3">42 rows</text></svg></g>
<g id="xign" transform="translate(853.3,2338.5)"><rect class="hd" width="100" height="24"/><text class="c" x="50" y="17.5">xign</text><rect class="pl" y="24" width="100" height="22.65"/><text x="4" y="40.3">...</text><rect class="ft" y="46.65" width="100" height="22.65"/><path class="ln" d="M30,46.65 V69.3 M82,46.65 V69.3"/><text x="4" y="63">&lt; 2</text><svg x="30" y="46.65" width="52" height="22.65"><text x="3" y="16.3">0 rows</text></svg></g>
<g id="pconfig" transform="translate(1094.3,2213.5)"><rect class="hd" width="117" height="24"/><text class="c" x="58.5" y="17.5">pconfig</text><rect class="pl" y="24" width="117" height="22.65"/><text x="4" y="40.3">...</text><rect class="ft" y="46.65" width="117" height="22.65"/><path class="ln" d="M31,46.65 V69.3 M99.4,46.65 V69.3"/><text x="4" y="63">&lt; 2</text><svg x="31" y="46.65" width="68.4" height="22.65"><text x="3" y="16.3">719 rows</text></svg></g>
<g id="likes" transform="translate(853.3,2629.5)"><rect class="hd" width="100" height="24"/><text class="c" x="50" y="17.5">likes</text><rect class="pl" y="24" width="100" height="22.65"/><text x="4" y="40.3">...</text><rect class="ft" y="46.65" width="100" height="22.65"/><path class="ln" d="M30,46.65 V69.3 M82,46.65 V69.3"/><text x="4" y="63">&lt; 2</text><svg x="30" y="46.65" width="52" height="22.65"><text x="3" y="16.3">0 rows</text></svg></g>
<g id="conv" transform="translate(849.3,2726.3)"><rect class="hd" width="108" height="24"/><text class="c" x="54" y="17.5">conv</text><rect class="pl" y="24" width="108" height="22.65"/><text x="4" y="40.3">...</text><rect class="ft" y="46.65" width="108" height="22.65"/><path class="ln" d="M30,46.65 V69.3 M90,46.65 V69.3"/><text x="4" y="63">&lt; 1</text><svg x="30" y="46.65" width="60" height="22.65"><text x="3" y="16.3">15 rows</text></svg></g>
<g id="xconfig" transform="translate(851.3,2823.5)"><rect class="hd" width="102" height="24"/><text class="c" x="51" y="17.5">xconfig</text><rect class="pl" y="24" width="102" height="22.65"/><text x="4" y="40.3">...</text><rect class="ft" y="46.65" width="102" height="22.65"/><path class="ln" d="M31,46.65 V69.3 M83,46.65 V69.3"/><text x="4" y="63">&lt; 3</text><svg x="31" y="46.65" width="52" height="22.65"><text x="3" y="16.3">8 rows</text></svg></g>
<g id="fcontact" transform="translate(851.3,2921.5)"><rect class="hd" width="103" height="24"/><text class="c" x="51.5" y="17.5">fcontact</text><rect class="pl" y="24" width="103" height="22.65"/><text x="4" y="40.3">...</text><rect class="ft" y="46.65" width="103" height="22.65"/><path class="ln" d="M31,46.65 V69.3 M83,46.65 V69.3"/><text x="4" y="63">&lt; 1</text><svg x="31" y="46.65" width="52" height="22.65"><text x="3" y="16.3">0 rows</text></svg></g>
<g id="ffinder" transform="translate(853.3,3018.3)"><rect class="hd" width="100" height="24"/><text class="c" x="50" y="17.5">ffinder</text><rect class="pl" y="24" width="100" height="22.65"/><text x="4" y="40.3">...</text><rect class="ft" y="46.65" width="100" height="22.65"/><path class="ln" d="M30,46.65 V69.3 M82,46.65 V69.3"/><text x="4" y="63">&lt; 1</text><svg x="30" y="46.65" width="52" height="22.65"><text x="3" y="16.3">0 rows</text></svg></g>
<g id="item_id" transform="translate(843.3,3115.5)"><rect class="hd" width="118" height="24"/><text class="c" x="59" y="17.5">item_id</text><rect class="pl" y="24" width="118" height="22.65"/><text x="4" y="40.3">...</text><rect class="ft" y="46.65" width="118" height="22.65"/><path class="ln" d="M31,46.65 V69.3 M99.4,46.65 V69.3"/><text x="4" y="63">&lt; 1</text><svg x="31" y="46.65" width="68.4" height="22.65"><text x="3" y="16.3">194 rows</text></svg></g>
<g id="profdef" transform="translate(851.3,3213.5)"><rect class="hd" width="102" height="24"/><text class="c" x="51" y="17.5">profdef</text><rect class="pl" y="24" width="102" height="22.65"/><text x="4" y="40.3">...</text><rect class="ft" y="46.65" width="102" height="22.65"/><path class="ln" d="M31,46.65 V69.3 M83,46.65 V69.3"/><text x="4" y="63">&lt; 1</text><svg x="31" y="46.65" width="52" height="22.65"><text x="3" y="16.3">0 rows</text></svg></g>
<g id="profile_check" transform="translate(843.3,3310.6)"><rect class="hd" width="118" height="24"/><text class="c" x="59" y="17.5">profile_check</text><rect class="pl" y="24" width="118" height="22.65"/><text x="4" y="40.3">...</text><rect class="ft" y="46.65" width="118" height="22.65"/><path class="ln" d="M34,46.65 V69.3 M86,46.65 V69.3"/><text x="4" y="63">&lt; 1</text><svg x="34" y="46.65" width="52" height="22.65"><text x="3" y="16.3">0 rows</text></svg></g>
<g id="sign" transform="translate(853.3,3407.3)"><rect class="hd" width="100" height="24"/><text class="c" x="50" y="17.5">sign</text><rect class="pl" y="24" width="100" height="22.65"/><text x="4" y="40.3">...</text><rect class="ft" y="46.65" width="100" height="22.65"/><path class="ln" d="M30,46.65 V69.3 M82,46.65 V69.3"/><text x="4" y="63">&lt; 1</text><svg x="30" y="46.65" width="52" height="22.65"><text x="3" y="16.3">0 rows</text></svg></g>
<g id="sys_perms" transform="translate(847.3,3505.5)"><rect class="hd" width="110" height="24"/><text class="c" x="55" y="17.5">sys_perms</text><rect class="pl" y="24" width="110" height="22.65"/><text x="4" y="40.3">...</text><rect class="ft" y="46.65" width="110" height="22.65"/><path class="ln" d="M31,46.65 V69.3 M83,46.65 V69.3"/><text x="4" y="63">&lt; 2</text><svg x="31" y="46.65" width="52" height="22.65"><text x="3" y="16.3">0 rows</text></svg></g>
<g id="config" transform="translate(849.3,3602.5)"><rect class="hd" width="108" height="24"/><text class="c" x="54" y="17.5">config</text><rect class="pl" y="24" width="108" height="22.65"/><text x="4" y="40.3">...</text><rect class="ft" y="46.65" width="108" height="22.65"/><path class="ln" d="M30,46.65 V69.3 M90,46.65 V69.3"/><text x="4" y="63">&lt; 2</text><svg x="30" y="46.65" width="60" height="22.65"><text x="3" y="16.3">83 rows</text></svg></g>

<text class="gen" x="12" y="3780">Generated by SchemaSpy</text>
</svg>
